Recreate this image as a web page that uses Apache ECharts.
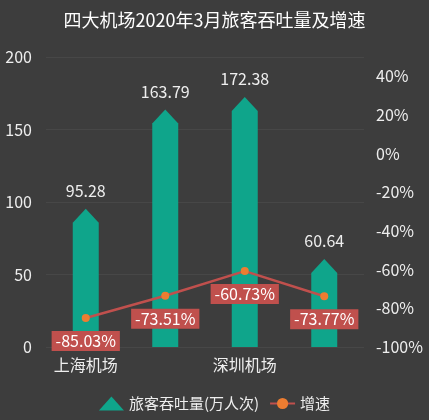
<!DOCTYPE html>
<html><head><meta charset="utf-8">
<script src="https://cdn.jsdelivr.net/npm/echarts@6/dist/echarts.min.js"></script>
<style>html,body{margin:0;background:#3d3d3d}#c{width:429px;height:420px}</style>
</head><body><div id="c"></div>
<script>
var airports = ['上海机场', '白云机场', '深圳机场', '厦门空港'];
var volume = [95.28, 163.79, 172.38, 60.64];
var growth = [-85.03, -73.51, -60.73, -73.77];

var chart = echarts.init(document.getElementById('c'));
var font = '"Noto Sans CJK SC", sans-serif';

function renderBar(params, api) {
  var top = api.coord([api.value(0), api.value(1)]);
  var base = api.coord([api.value(0), 0]);
  var w = 26, tip = 14;
  var x0 = top[0] - w / 2, x1 = top[0] + w / 2;
  return {
    type: 'group',
    children: [{
      type: 'polygon',
      shape: { points: [[x0, base[1]], [x0, top[1] + tip], [top[0], top[1]], [x1, top[1] + tip], [x1, base[1]]] },
      style: { fill: '#0fa58b' }
    }, {
      type: 'text',
      style: {
        text: String(api.value(1)), x: top[0], y: top[1] - 10,
        align: 'center', verticalAlign: 'bottom',
        fill: '#eee', fontSize: 16, fontFamily: font
      }
    }]
  };
}

chart.setOption({
  backgroundColor: '#3d3d3d',
  textStyle: { fontFamily: font },
  title: {
    text: '四大机场2020年3月旅客吞吐量及增速', left: 'center', top: 6,
    textStyle: { color: '#fff', fontSize: 18, fontWeight: 'normal', fontFamily: font }
  },
  legend: {
    bottom: 4, itemGap: 10,
    textStyle: { color: '#eee', fontSize: 15 },
    data: [{ name: '旅客吞吐量(万人次)', icon: 'triangle', itemStyle: { color: '#0fa58b' } }, '增速']
  },
  grid: { left: 46, right: 65, top: 57, bottom: 73 },
  xAxis: {
    type: 'category', data: airports,
    axisLine: { show: false }, axisTick: { show: false },
    axisLabel: { color: '#eee', fontSize: 16, margin: 10 }
  },
  yAxis: [{
    type: 'value', min: 0, max: 200, interval: 50,
    axisLabel: { color: '#eee', fontSize: 16, margin: 14 },
    splitLine: { lineStyle: { color: '#474747' } }
  }, {
    type: 'value', min: -100, max: 50, interval: 20,
    axisLabel: { color: '#eee', fontSize: 16, formatter: '{value}%', showMaxLabel: false, margin: 12 },
    splitLine: { show: false }
  }],
  series: [{
    name: '旅客吞吐量(万人次)', type: 'custom', renderItem: renderBar,
    data: volume.map(function (v, i) { return [i, v]; }),
    encode: { x: 0, y: 1 },
    itemStyle: { color: '#0fa58b' }
  }, {
    name: '增速', type: 'line', yAxisIndex: 1, data: growth,
    symbol: 'circle', symbolSize: 8,
    lineStyle: { color: '#c0504d', width: 2.5 },
    itemStyle: { color: '#ed7d31' },
    label: {
      show: true, position: 'bottom', distance: 9, formatter: '{c}%',
      color: '#fff', fontSize: 16, backgroundColor: '#c0504d', padding: [2, 4]
    }
  }]
});
</script></body></html>
